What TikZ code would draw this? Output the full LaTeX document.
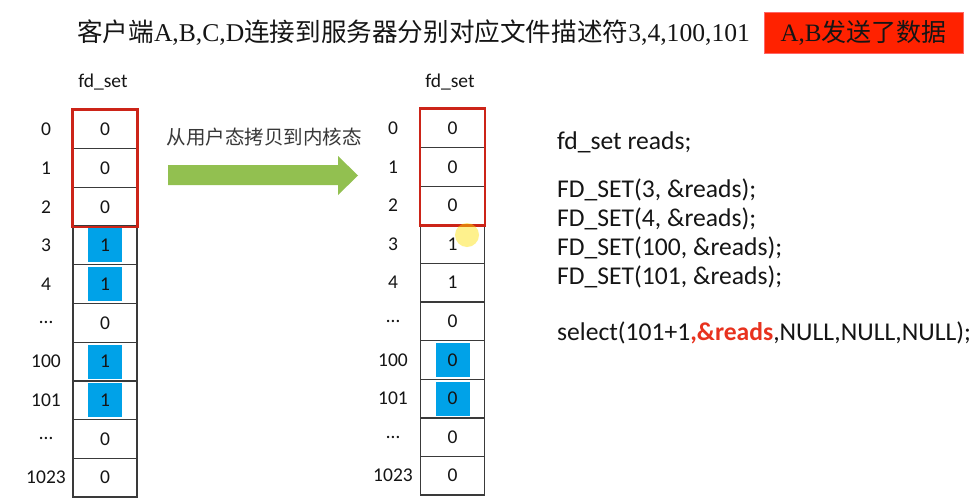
\documentclass[tikz,border=0pt]{standalone}
\usepackage{fontspec}
\setmainfont{Liberation Serif}
\newfontfamily\cjkfont{Noto Sans CJK SC}
\newfontfamily\calfont{Carlito}
\definecolor{cellblue}{HTML}{00A2E8}
\definecolor{arrowgreen}{HTML}{92C050}
\definecolor{framered}{HTML}{CC2418}
\definecolor{bannerred}{HTML}{FF2200}
\definecolor{gridgray}{HTML}{3A3A3A}
\definecolor{ink}{HTML}{151515}
\definecolor{codered}{HTML}{E8321E}

\tikzset{
  cell/.style={draw=gridgray, line width=1.3pt, minimum width=64pt,
    minimum height=38.7pt, inner sep=0pt},
  setbox/.style={fill=cellblue, minimum width=34pt, minimum height=34pt, inner sep=0pt},
  digit/.style={text=ink, inner sep=0pt, font=\calfont\fontsize{19.5}{22}\selectfont},
  rowlabel/.style={text=ink, inner sep=0pt, font=\calfont\fontsize{19.5}{22}\selectfont},
  codeline/.style={anchor=west, text=ink, inner sep=0pt, font=\calfont\fontsize{25.6}{30}\selectfont},
  selframe/.style={draw=framered, line width=2.5pt},
}

\begin{document}
\begin{tikzpicture}[x=1pt,y=-1pt]
\fill[white] (0,0) rectangle (979,501);
\useasboundingbox (0,0) rectangle (979,501);

% heading and banner
\node[anchor=west, inner sep=0pt, text=ink, font=\fontsize{25.6}{30}\selectfont] (title) at (77,33)
  {{\cjkfont 客户端}A,B,C,D{\cjkfont 连接到服务器分别对应文件描述符}3,4,100,101};
\node[fill=bannerred, draw=red!60!white, line width=0.6pt, minimum width=199pt, minimum height=41pt,
  inner sep=0pt, text=ink, font=\fontsize{25}{30}\selectfont] (banner) at (863.5,32.5)
  {A,B{\cjkfont 发送了数据}};

% user-space fd_set
\node[digit] (lhead) at (103,82) {fd\_set};
\foreach \i/\lab/\val/\hl in {0/0/0/0,1/1/0/0,2/2/0/0,3/3/1/1,4/4/1/1,5/…/0/0,6/100/1/1,7/101/1/1,8/…/0/0,9/1023/0/0} {
  \node[cell] (L\i) at (105,{110+38.7*(\i+0.5)}) {};
  \ifnum\hl=1 \node[setbox] (LB\i) at (L\i) {}; \fi
  \node[digit] (LV\i) at (L\i) {\val};
  \node[rowlabel] (LL\i) at (46,{110+38.7*(\i+0.5)}) {\lab};
}
\draw[selframe] (L0.north west) rectangle (L2.south east);

% kernel-space fd_set
\node[digit] (rhead) at (450,82) {fd\_set};
\foreach \i/\lab/\val/\hl in {0/0/0/0,1/1/0/0,2/2/0/0,3/3/1/0,4/4/1/0,5/…/0/0,6/100/0/1,7/101/0/1,8/…/0/0,9/1023/0/0} {
  \node[cell] (R\i) at (452.5,{109+38.6*(\i+0.5)}) {};
  \ifnum\hl=1 \node[setbox] (RB\i) at (R\i) {}; \fi
  \node[digit] (RV\i) at (R\i) {\val};
  \node[rowlabel] (RL\i) at (393,{109+38.6*(\i+0.5)}) {\lab};
}
\draw[selframe] (R0.north west) rectangle (R2.south east);

% copy arrow
\node[text=ink!85, inner sep=0pt, font=\cjkfont\fontsize{19.5}{22}\selectfont] (copylabel) at (264,137)
  {从用户态拷贝到内核态};
\fill[arrowgreen] (168,165) -- (338,165) -- (338,156) -- (358,175.5) -- (338,195) -- (338,185) -- (168,185) -- cycle;

% pointer highlight
\fill[yellow!85!orange, opacity=0.45] (467,235) circle (12);

% code
\node[codeline] (c0) at (557,142) {fd\_set reads;};
\node[codeline] (c1) at (557,190) {FD\_SET(3, \&reads);};
\node[codeline] (c2) at (557,219) {FD\_SET(4, \&reads);};
\node[codeline] (c3) at (557,248) {FD\_SET(100, \&reads);};
\node[codeline] (c4) at (557,277) {FD\_SET(101, \&reads);};
\node[codeline] (c5) at (557,333) {select(101+1{\color{codered}\bfseries ,\&reads},NULL,NULL,NULL);};
\end{tikzpicture}
\end{document}
